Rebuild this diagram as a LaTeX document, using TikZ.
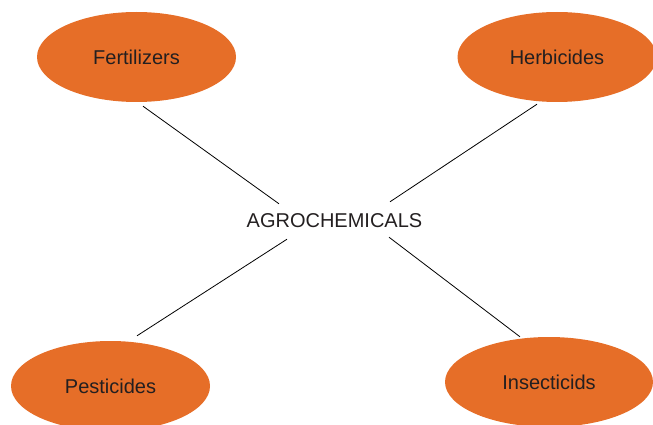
\documentclass[tikz,border=0pt]{standalone}
\usepackage{fontspec}
\setmainfont{Liberation Sans}
\usetikzlibrary{shapes.geometric,calc}
\definecolor{agroorange}{RGB}{230,110,40}
\definecolor{agrotext}{RGB}{35,31,32}
\begin{document}
\begin{tikzpicture}[x=1pt, y=-1pt, font=\fontsize{20}{24}\selectfont,
    chem/.style={ellipse, fill=agroorange, text=agrotext, minimum width=199pt, minimum height=90pt, inner sep=0pt},
    link/.style={line width=.8pt}]
\useasboundingbox (0,0) rectangle (653,425);
\foreach \n/\x/\y/\t in {fert/136.5/57/Fertilizers, herb/557/57/Herbicides, pest/110.5/386/Pesticides}
{
    \node[chem] (\n) at (\x,\y) {\t};
}
\node[chem, minimum width=208pt] (insect) at (549,382) {Insecticids};
\node[text=agrotext, minimum height=35pt, inner sep=0pt] (agro) at (334.5,220.5) {AGROCHEMICALS};

\draw[link] ($(fert.south)+(6.5,4)$)--($(agro.north)+(-55.5,1)$);
\draw[link] ($(herb.south)+(-20,2)$)--($(agro.north)+(55.5,-1)$);
\draw[link] ($(pest.north)+(26.5,-5)$)--($(agro.south)+(-47.5,1)$);
\draw[link] ($(insect.north)+(-29,0)$)--($(agro.south)+(54.5,-1)$);

\end{tikzpicture}
\end{document}
